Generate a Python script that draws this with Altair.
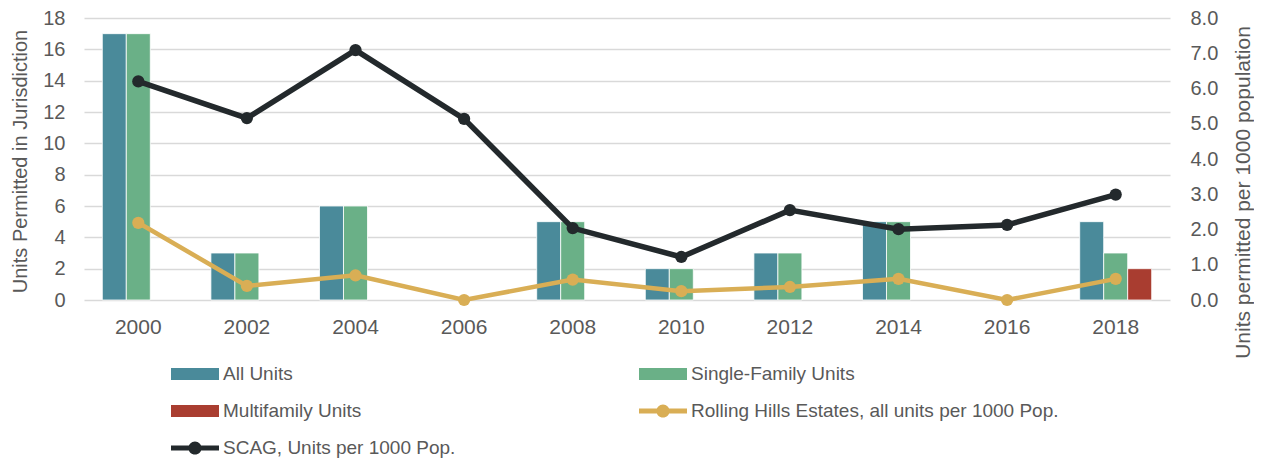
import altair as alt
import pandas as pd

years = ["2000", "2002", "2004", "2006", "2008", "2010", "2012", "2014", "2016", "2018"]
all_units = [17, 3, 6, 0, 5, 2, 3, 5, 0, 5]
single_family = [17, 3, 6, 0, 5, 2, 3, 5, 0, 3]
multifamily = [0, 0, 0, 0, 0, 0, 0, 0, 0, 2]
rhe_per_1000 = [2.19, 0.40, 0.70, 0.0, 0.58, 0.25, 0.37, 0.60, 0.0, 0.60]
scag_per_1000 = [6.20, 5.16, 7.09, 5.14, 2.04, 1.22, 2.55, 2.01, 2.13, 2.99]

bar_series = ["All Units", "Single-Family Units", "Multifamily Units"]
line_series = ["Rolling Hills Estates, all units per 1000 Pop.", "SCAG, Units per 1000 Pop."]
all_series = bar_series + line_series
colors = ["#4A8A9A", "#6AB087", "#A93D30", "#D9AE55", "#23292C"]

rect_sym = "M-1,-0.5H3V0.5H-1Z"
line_sym = "M-1,-0.21H3V0.21H-1Z M0.45,0A0.55,0.55 0 1,1 1.55,0A0.55,0.55 0 1,1 0.45,0Z"
shapes = [rect_sym, rect_sym, rect_sym, line_sym, line_sym]

rows = []
for i, yr in enumerate(years):
    for s, vals in zip(all_series, [all_units, single_family, multifamily, rhe_per_1000, scag_per_1000]):
        rows.append({"year": yr, "series": s, "value": vals[i]})
df = pd.DataFrame(rows)

FONT = "Liberation Sans"
TXT = "#595959"

color_scale = alt.Scale(domain=all_series, range=colors)

x_enc = alt.X(
    "year:N",
    scale=alt.Scale(domain=years, paddingInner=0.337, paddingOuter=0.1685),
    axis=alt.Axis(title=None, labelAngle=0, domain=False, ticks=False, labelPadding=16,
                  labelFontSize=21, labelColor=TXT, grid=False),
)

bars = alt.Chart(df).transform_filter(
    alt.FieldOneOfPredicate(field="series", oneOf=bar_series)
).transform_filter("datum.value > 0").mark_bar(stroke="#ffffff", strokeWidth=0.8).encode(
    x=x_enc,
    xOffset=alt.XOffset("series:N", scale=alt.Scale(domain=bar_series, paddingInner=0, paddingOuter=0)),
    y=alt.Y("value:Q", scale=alt.Scale(domain=[0, 18]),
            axis=alt.Axis(orient="left", values=list(range(0, 19, 2)), title="Units Permitted in Jurisdiction",
                          grid=True, gridColor="#D9D9D9", gridWidth=1.5, domain=False, ticks=False,
                          labelPadding=19, labelFontSize=20, labelColor=TXT,
                          titleFontSize=20, titleFontWeight="normal", titleColor=TXT,
                          titleX=-64, titleY=143, titleAngle=270, titleAlign="center",
                          titleBaseline="middle")),
    color=alt.Color("series:N", scale=color_scale),
)

y_right = alt.Y("value:Q", scale=alt.Scale(domain=[0, 8]),
                axis=alt.Axis(orient="right", values=[0, 1, 2, 3, 4, 5, 6, 7, 8], format=".1f",
                              title="Units permitted per 1000 population", grid=False, domain=False,
                              ticks=False, labelPadding=20, labelFontSize=20, labelColor=TXT,
                              titleFontSize=21, titleFontWeight="normal", titleColor=TXT,
                              titleX=73, titleY=174, titleAngle=270, titleAlign="center",
                              titleBaseline="middle"))

line_base = alt.Chart(df).transform_filter(alt.FieldOneOfPredicate(field="series", oneOf=line_series))

lines = line_base.mark_line().encode(
    x=x_enc,
    y=y_right,
    color=alt.Color("series:N", scale=color_scale),
    strokeWidth=alt.StrokeWidth("series:N", scale=alt.Scale(domain=line_series, range=[4.5, 5.5]), legend=None),
)
points = line_base.mark_point(filled=True, size=150, opacity=1).encode(
    x=x_enc,
    y=y_right,
    color=alt.Color("series:N", scale=color_scale),
)

leg = alt.Legend(title=None, orient="none", legendX=87, legendY=344, columns=2, columnPadding=183,
                 rowPadding=15, symbolSize=576, symbolStrokeWidth=0, labelFontSize=19, labelColor=TXT,
                 labelFont=FONT, labelOffset=28, padding=0, gridAlign="each", labelLimit=0,
                 direction="horizontal")

legend_layer = alt.Chart(df).transform_filter("datum.value < 0").mark_point(filled=True, opacity=1).encode(
    color=alt.Color("series:N", scale=color_scale, legend=leg),
    shape=alt.Shape("series:N", scale=alt.Scale(domain=all_series, range=shapes), legend=leg),
)

chart = alt.layer(
    alt.layer(bars),
    alt.layer(lines, points),
    legend_layer,
).resolve_scale(y="independent").properties(
    width=1086, height=282,
    autosize=alt.AutoSizeParams(type="none"),
    padding={"left": 76, "top": 10, "right": 84, "bottom": 162},
).configure(font=FONT).configure_view(stroke=None)

chart.save("out.html", embed_options={"renderer": "svg", "actions": False})
